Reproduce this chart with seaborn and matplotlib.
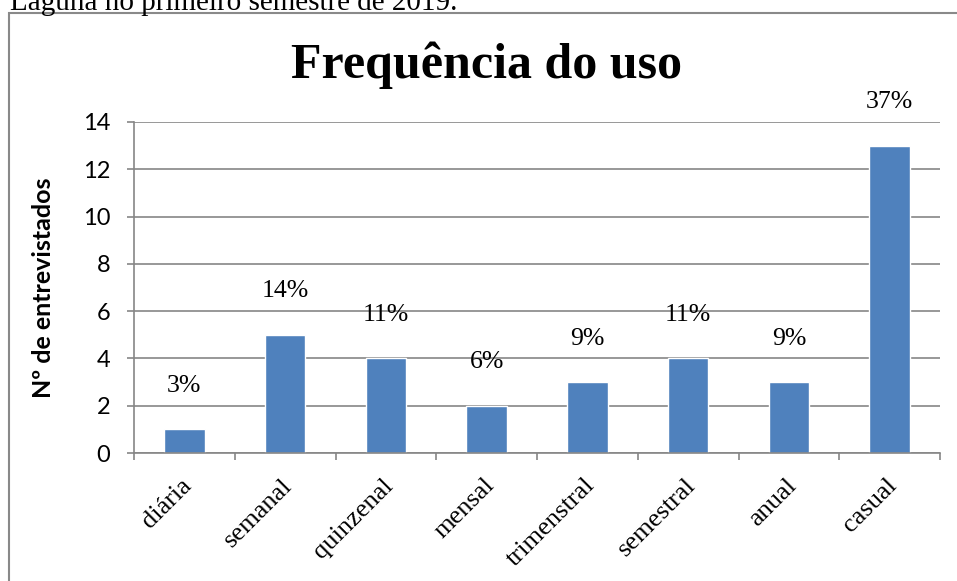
import matplotlib
matplotlib.use('Agg')
import matplotlib.pyplot as plt
import matplotlib.transforms as mtransforms
import seaborn as sns
import pandas as pd
from matplotlib.patches import Rectangle

# dados
categorias = ['diária', 'semanal', 'quinzenal', 'mensal', 'trimenstral', 'semestral', 'anual', 'casual']
entrevistados = [1, 5, 4, 2, 3, 4, 3, 13]
percentuais = ['3%', '14%', '11%', '6%', '9%', '11%', '9%', '37%']
y_ticks = [0, 2, 4, 6, 8, 10, 12, 14]

df = pd.DataFrame({'categoria': categorias, 'entrevistados': entrevistados})

sns.set_style('white')
plt.rcParams['font.family'] = ['Liberation Serif', 'DejaVu Serif']
plt.rcParams['text.color'] = 'black'
plt.rcParams['axes.labelcolor'] = 'black'
plt.rcParams['xtick.color'] = 'black'
plt.rcParams['ytick.color'] = 'black'

cinza = '#868686'

fig = plt.figure(figsize=(9.57, 5.81), dpi=100)
ax = fig.add_axes([134 / 957, 1 - 453 / 581, 806 / 957, 331 / 581])

sns.barplot(data=df, x='categoria', y='entrevistados', color='#4F81BD',
            saturation=1, width=0.4, ax=ax)

ax.set_xlim(-0.5, len(categorias) - 0.5)
ax.set_ylim(0, 14)
ax.set_yticks(y_ticks)
ax.set_yticklabels([str(v) for v in y_ticks], fontfamily=['Lato', 'DejaVu Sans'], fontsize=17)
ax.yaxis.grid(True, color=cinza, lw=1.2)
ax.set_axisbelow(True)

for s in ['top', 'right']:
    ax.spines[s].set_visible(False)
for s in ['left', 'bottom']:
    ax.spines[s].set_color(cinza)
    ax.spines[s].set_linewidth(1.2)

# ticks do eixo x nas divisas entre categorias
ax.set_xticks(range(len(categorias)))
ax.set_xticklabels(categorias, rotation=45, ha='right', va='center',
                   rotation_mode='anchor', fontsize=19)
ax.set_xticks([i - 0.5 for i in range(len(categorias) + 1)], minor=True)
ax.tick_params(axis='x', which='major', bottom=True, length=0, pad=21)
ax.tick_params(axis='x', which='minor', bottom=True, length=5, width=1.2, color=cinza)
ax.tick_params(axis='y', left=True, length=5, width=1.2, color=cinza, pad=12)

# desloca um pouco os rotulos para a direita
shift = mtransforms.ScaledTranslation(4 / 100, 0, fig.dpi_scale_trans)
for lbl in ax.get_xticklabels():
    lbl.set_transform(lbl.get_transform() + shift)

ax.set_xlabel('')
ax.set_ylabel('Nº de entrevistados', fontfamily=['Lato', 'DejaVu Sans'],
              fontweight='bold', fontsize=18)
ax.yaxis.set_label_coords(-0.098, 0.5)

# rotulos de percentual
for i, v in enumerate(entrevistados):
    ax.annotate(percentuais[i], (i, v), xytext=(0, 27), textcoords='offset points',
                ha='center', va='baseline', fontsize=18.5)

fig.text(487 / 957, 1 - 78 / 581, 'Frequência do uso', fontsize=36,
         fontweight='bold', ha='center', va='baseline')
fig.text(10 / 957, 1 - 10 / 581, 'Laguna no primeiro semestre de 2019.',
         fontsize=21, va='baseline')

# moldura do grafico
fig.patches.append(Rectangle((8.5 / 957, -0.1), 1.2, 1.1 - 13 / 581, fill=False,
                             edgecolor='#898989', lw=1.5, transform=fig.transFigure))

fig.savefig('out.png', dpi=100)
